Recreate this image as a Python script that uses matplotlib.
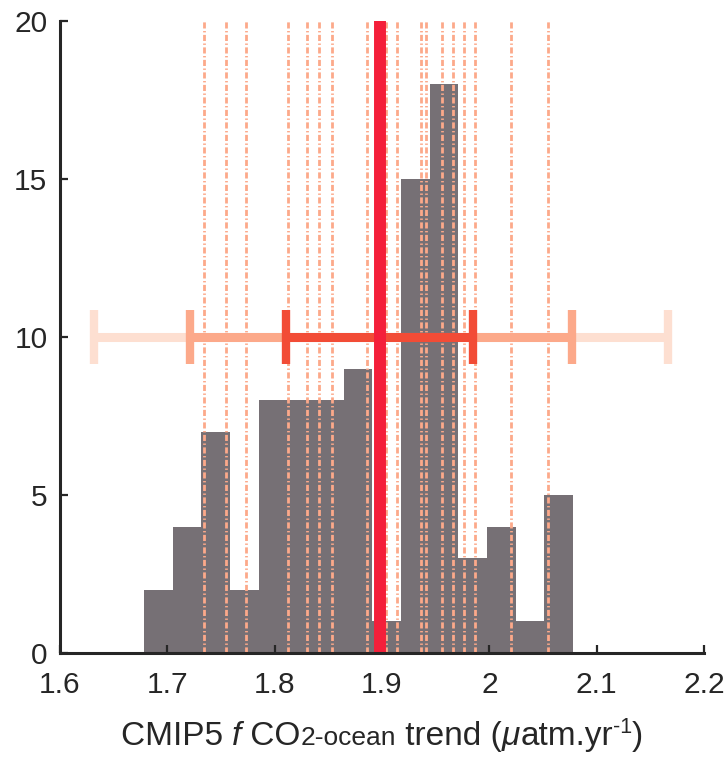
import numpy as np
import matplotlib
matplotlib.use("Agg")
import matplotlib.pyplot as plt

# histogram of the ensemble trends
bin_edges = [1.678, 1.705, 1.731, 1.758, 1.785, 1.811, 1.838, 1.865,
             1.891, 1.918, 1.945, 1.971, 1.998, 2.025, 2.051, 2.078]
counts = [2, 4, 7, 2, 8, 8, 8, 9, 1, 15, 18, 3, 4, 1, 5]

# individual model trends (dash-dot lines)
model_trends = [1.734, 1.755, 1.773, 1.812, 1.830, 1.841, 1.853, 1.886,
                1.904, 1.914, 1.936, 1.941, 1.956, 1.966, 1.976, 1.987,
                2.020, 2.055]

mean_trend = 1.898
# 3, 2, 1 sigma ranges
sigma_ranges = [(1.632, 2.166), (1.721, 2.077), (1.811, 1.985)]
sigma_colors = ['#fddfd1', '#fca98a', '#f24c36']
bar_y = 10

plt.rcParams['font.family'] = ['Liberation Sans', 'DejaVu Sans']
dark = '#262626'

fig = plt.figure(figsize=(7.24, 7.60), dpi=100)
ax = fig.add_axes([60 / 724, 1 - 653 / 760, 644 / 724, 632 / 760])

edges = np.array(bin_edges)
ax.bar(edges[:-1], counts, width=np.diff(edges), align='edge',
       color='#767075', edgecolor='none', zorder=1)

for xv in model_trends:
    ax.plot([xv, xv], [0, 20], color='#fca98a', lw=2.0,
            linestyle=(0, (2.2, 0.9, 0.5, 0.9)), zorder=2)

for (lo, hi), c in zip(sigma_ranges, sigma_colors):
    ax.errorbar(mean_trend, bar_y, xerr=[[mean_trend - lo], [hi - mean_trend]],
                fmt='none', ecolor=c, elinewidth=6.5, capsize=19.5,
                capthick=6, zorder=3)

ax.plot([mean_trend, mean_trend], [0, 20], color='#f41f3a', lw=8.6,
        solid_capstyle='butt', zorder=4)

ax.set_xlim(1.6, 2.2)
ax.set_ylim(0, 20)
ax.set_xticks([1.6, 1.7, 1.8, 1.9, 2.0, 2.1, 2.2])
ax.set_xticklabels(['1.6', '1.7', '1.8', '1.9', '2', '2.1', '2.2'])
ax.set_yticks([0, 5, 10, 15, 20])

for s in ['top', 'right']:
    ax.spines[s].set_visible(False)
for s in ['left', 'bottom']:
    ax.spines[s].set_color(dark)
    ax.spines[s].set_linewidth(2.2)
    ax.spines[s].set_zorder(5)

ax.tick_params(axis='both', direction='in', length=6, width=1.6,
               color=dark, labelcolor=dark, labelsize=21.5)
ax.tick_params(axis='x', pad=13)
ax.tick_params(axis='y', pad=9)

# x label built from pieces (italic f, small "2-ocean", superscript -1)
pieces = [
    ('CMIP5 ', 24, 'normal', 0),
    ('f', 24, 'italic', 0),
    (' CO', 24, 'normal', 0),
    ('2-ocean', 19, 'normal', 0),
    (' trend (', 24, 'normal', 0),
    ('\u03bc', 24, 'italic', 0),
    ('atm.yr', 24, 'normal', 0),
    ('-1', 15.5, 'normal', 12),
    (')', 24, 'normal', 0),
]
renderer = fig.canvas.get_renderer()
texts = []
total = 0
for s, size, style, rise in pieces:
    t = fig.text(0, 0, s, fontsize=size, fontstyle=style, color=dark,
                 ha='left', va='baseline', transform=None)
    w = t.get_window_extent(renderer).width
    texts.append((t, w, rise))
    total += w

x0 = 382 - total / 2
base = 760 - 745
for t, w, rise in texts:
    t.set_position((x0, base + rise))
    x0 += w

fig.savefig('out.png', dpi=100)
